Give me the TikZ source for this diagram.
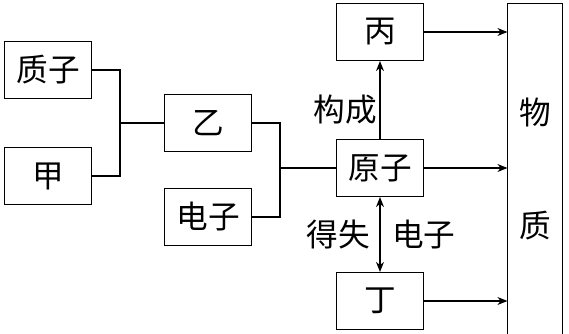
\documentclass[tikz,border=0pt]{standalone}
\usepackage{fontspec}
\setmainfont{Noto Sans CJK SC}
\usetikzlibrary{positioning,arrows.meta}

\begin{document}
\begin{tikzpicture}[
  x=0.03cm, y=-0.03cm,
  font=\fontsize{27}{30}\selectfont,
  line width=1pt,
  box/.style={draw, minimum width=2.61cm, minimum height=1.71cm, inner sep=0pt},
  arr/.style={-{Stealth[length=3mm, width=2.4mm]}},
  darr/.style={{Stealth[length=3mm, width=2.4mm]}-{Stealth[length=3mm, width=2.4mm]}},
]
\useasboundingbox (0,0) rectangle (569,333);
% left part
\node[box] (zhizi) at (48,70) {质子};
\node[box] (jia) at (48,176) {甲};
\node[box] (yi) at (208,123) {乙};
\node[box] (dianzi) at (208,217) {电子};
\coordinate (j1) at (120,123);
\coordinate (j2) at (280,168);
\draw (zhizi.east) -| (j1) |- (jia.east);
\draw (j1) -- (yi.west);
\draw (yi.east) -| (j2) |- (dianzi.east);
% middle column
\node[box] (yuanzi) at (380,168) {原子};
\node[box] (bing) at (380,32) {丙};
\node[box] (ding) at (380,301) {丁};
\draw (j2) -- (yuanzi.west);
\draw[arr] (yuanzi.north) -- (bing.south)
  node[pos=0.38, left, inner sep=2pt] {构成};
\draw[darr] (yuanzi.south) -- (ding.north)
  node[midway, left=8pt, inner sep=0pt] {得失}
  node[midway, right=10pt, inner sep=0pt] {电子};
% right column
\node[minimum width=1.62cm, minimum height=9.9cm, inner sep=0pt, align=center] (wuzhi) at (535,169)
  {物\\[2.35cm]质};
\draw (wuzhi.south west) |- (wuzhi.north east) -- (wuzhi.south east);
\draw[arr] (bing.east) -- (bing.east -| wuzhi.west);
\draw[arr] (yuanzi.east) -- (yuanzi.east -| wuzhi.west);
\draw[arr] (ding.east) -- (ding.east -| wuzhi.west);
\end{tikzpicture}
\end{document}
